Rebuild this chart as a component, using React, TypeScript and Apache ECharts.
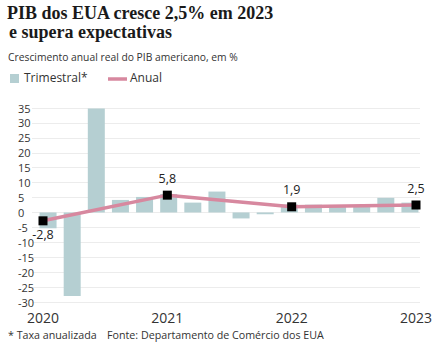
import React, { useEffect, useRef } from "react";
import * as echarts from "echarts";

const quarters = [
  "T1 2020", "T2 2020", "T3 2020", "T4 2020",
  "T1 2021", "T2 2021", "T3 2021", "T4 2021",
  "T1 2022", "T2 2022", "T3 2022", "T4 2022",
  "T1 2023", "T2 2023", "T3 2023", "T4 2023",
];
const quarterly = [-5.3, -28.0, 34.8, 4.2, 5.2, 6.2, 3.3, 7.0, -2.0, -0.6, 2.7, 2.6, 2.2, 2.1, 4.9, 3.3];
const years = ["2020", "2021", "2022", "2023"];
const annual = [-2.8, 5.8, 1.9, 2.5];
const yTicks = [35, 30, 25, 20, 15, 10, 5, 0, -5, -10, -15, -20, -25, -30];

const BAR = "#b5cfd2";
const LINE = "#d7889f";
const SANS = "'Open Sans', 'Noto Sans', sans-serif";

export default function App() {
  const ref = useRef<HTMLDivElement>(null);
  useEffect(() => {
    if (!ref.current) return;
    const chart = echarts.init(ref.current, null, { renderer: "svg" });
    const fmt = (v: number) => String(v).replace(".", ",");
    const yMin = yTicks[yTicks.length - 1];
    const yMax = yTicks[0];
    chart.setOption({
      animation: false,
      backgroundColor: "#fff",
      grid: [
        { left: 32, right: 16, top: 108, bottom: 53 },
        { left: 36, right: 14, top: 108, bottom: 53 },
        { left: 43, right: 20, top: 108, bottom: 53 },
      ],
      xAxis: [
        { gridIndex: 0, type: "value", min: 0, max: 1, show: false },
        { gridIndex: 1, type: "category", data: quarters, show: false },
        {
          gridIndex: 2, type: "category", data: years, boundaryGap: false,
          axisLine: { show: false }, axisTick: { show: false },
          axisLabel: { color: "#333", fontSize: 14, fontFamily: SANS, margin: 7, lineHeight: 16 },
        },
      ],
      yAxis: [
        {
          gridIndex: 0, type: "value", min: yMin, max: yMax, interval: 5,
          axisLine: { show: false }, axisTick: { show: false },
          axisLabel: { color: "#333", fontSize: 11, fontFamily: SANS, align: "left", margin: 14 },
          splitLine: { lineStyle: { color: "#ececec", width: 1 } },
        },
        { gridIndex: 1, type: "value", min: yMin, max: yMax, interval: 5, show: false },
        { gridIndex: 2, type: "value", min: yMin, max: yMax, interval: 5, show: false },
      ],
      series: [
        {
          type: "bar", xAxisIndex: 1, yAxisIndex: 1, data: quarterly,
          barWidth: 17, itemStyle: { color: BAR },
        },
        {
          type: "line", xAxisIndex: 2, yAxisIndex: 2, data: annual,
          lineStyle: { color: LINE, width: 3.5 },
          itemStyle: { color: "#000" },
          symbol: "rect", symbolSize: 9, z: 5,
          label: {
            show: true, color: "#222", fontSize: 12.5, fontFamily: SANS, distance: 6,
            formatter: (p: any) => fmt(p.value),
          },
          labelLayout: (p: any) => (p.dataIndex === 0 ? { dy: 31, dx: 0 } : {}),
        },
      ],
      graphic: [
        {
          type: "text", left: 7, top: 4,
          style: { text: "PIB dos EUA cresce 2,5% em 2023", font: "bold 18px 'Liberation Serif', serif", fill: "#1a1a1a" },
        },
        {
          type: "text", left: 9, top: 23,
          style: { text: "e supera expectativas", font: "bold 18px 'Liberation Serif', serif", fill: "#1a1a1a" },
        },
        {
          type: "text", left: 8, top: 52,
          style: { text: "Crescimento anual real do PIB americano, em %", font: `10.3px ${SANS}`, fill: "#333" },
        },
        { type: "rect", shape: { x: 10, y: 74, width: 9, height: 9 }, style: { fill: BAR } },
        {
          type: "text", left: 24, top: 71,
          style: { text: "Trimestral*", font: `12px ${SANS}`, fill: "#333" },
        },
        { type: "line", shape: { x1: 108, y1: 79, x2: 127, y2: 79 }, style: { stroke: LINE, lineWidth: 3.5 } },
        {
          type: "text", left: 130, top: 71,
          style: { text: "Anual", font: `12px ${SANS}`, fill: "#333" },
        },
        {
          type: "text", left: 8, top: 329,
          style: { text: "* Taxa anualizada", font: `10.7px ${SANS}`, fill: "#333" },
        },
        {
          type: "text", left: 107, top: 329,
          style: { text: "Fonte: Departamento de Comércio dos EUA", font: `10.7px ${SANS}`, fill: "#333" },
        },
      ],
    });
    return () => chart.dispose();
  }, []);
  return <div ref={ref} style={{ width: 436, height: 355, position: "absolute", left: 0, top: 0 }} />;
}
